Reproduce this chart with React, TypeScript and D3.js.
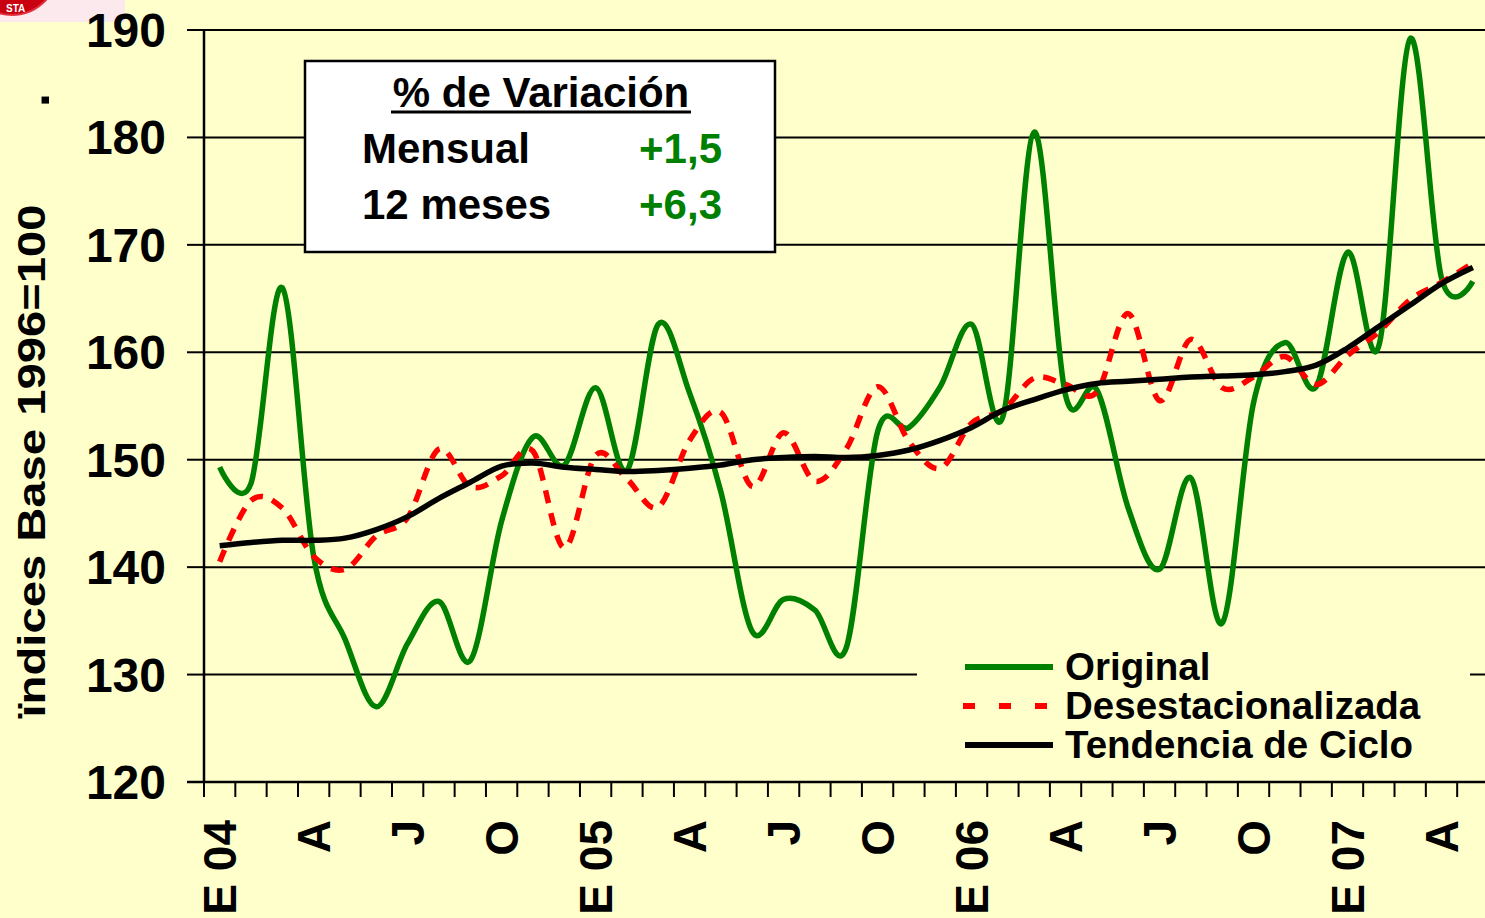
import React from "react";
import * as d3 from "d3";

const months = [
  "E 04","F","M","A","M","J","J","A","S","O","N","D",
  "E 05","F","M","A","M","J","J","A","S","O","N","D",
  "E 06","F","M","A","M","J","J","A","S","O","N","D",
  "E 07","F","M","A","M",
];

const original = [
  149.3,147.8,166.0,141.0,133.3,127.0,132.9,136.8,131.3,144.3,152.1,149.5,
  156.7,149.0,162.6,156.2,147.0,134.0,137.0,136.0,132.5,152.6,153.0,156.8,
  162.6,154.0,180.5,156.0,156.5,145.5,139.8,148.3,134.8,155.3,160.9,156.8,
  169.3,160.6,189.2,166.9,166.6,
];

const desestacionalizada = [
  140.5,146.2,145.5,141.0,139.8,142.9,144.6,151.0,147.5,148.5,150.8,141.8,
  150.4,148.2,145.6,151.8,154.4,147.5,152.5,148.0,151.0,156.8,151.7,149.2,
  153.4,154.6,157.6,157.0,156.3,163.6,155.5,161.2,156.7,157.7,159.6,157.0,
  159.7,161.9,164.9,166.5,168.3,
];

const tendencia = [
  142.0,142.3,142.5,142.5,142.7,143.5,144.7,146.4,147.9,149.4,149.7,149.3,
  149.1,148.9,149.0,149.2,149.5,150.0,150.2,150.3,150.2,150.4,150.9,151.8,
  153.0,154.6,155.6,156.5,157.1,157.3,157.5,157.7,157.8,157.9,158.2,158.8,
  160.4,162.4,164.4,166.4,167.9,
];

const yTicks = [120, 130, 140, 150, 160, 170, 180, 190];
const legendItems = ["Original", "Desestacionalizada", "Tendencia de Ciclo"];
const variationRows = [
  { label: "Mensual", value: "+1,5" },
  { label: "12 meses", value: "+6,3" },
];
const yTitle = "ïndices Base 1996=100";
const boxTitle = "% de Variación";

const W = 1485;
const H = 918;
const FONT = "'Liberation Sans', Arial, Helvetica, sans-serif";
const BG = "#FFFFCC";
const GREEN = "#008000";
const RED = "#FF0000";

export default function App() {
  const left = 204;
  const right = 1488.5;
  const top = 30;
  const bottom = 782;

  const x = d3.scaleBand<number>().domain(months.map((_, i) => i)).range([left, right]).paddingInner(0).paddingOuter(0);
  const bw = x.bandwidth();
  const cx = (i: number) => (x(i) as number) + bw / 2;
  const y = d3.scaleLinear().domain([120, 190]).range([bottom, top]);

  const line = d3
    .line<number>()
    .x((_, i) => cx(i))
    .y((d) => y(d))
    .curve(d3.curveCardinal.tension(0));

  const boundaries = d3.range(0, months.length + 1).map((i) => left + i * bw);

  return (
    <svg
      width={W}
      height={H}
      viewBox={`0 0 ${W} ${H}`}
      style={{ position: "absolute", left: 0, top: 0, display: "block" }}
      fontFamily={FONT}
    >
      <rect x={0} y={0} width={W} height={H} fill={BG} />

      {/* cropped logo in the corner */}
      <rect x={0} y={0} width={125} height={22} fill="#FCE9EE" />
      <ellipse cx={12} cy={-36} rx={48} ry={51} fill="#C8000F" stroke="#E23040" strokeWidth={2} />
      <text x={6} y={12} fontSize={10} fontWeight="bold" fill="#FFFFFF">
        STA
      </text>

      {/* gridlines */}
      {yTicks.filter((t) => t > 120).map((t) => (
        <line key={t} x1={left} x2={right} y1={y(t)} y2={y(t)} stroke="#000" strokeWidth={2} />
      ))}

      {/* y axis */}
      <line x1={left} x2={left} y1={top} y2={bottom} stroke="#000" strokeWidth={2.5} />
      {yTicks.map((t) => (
        <g key={t}>
          <line x1={187} x2={left} y1={y(t)} y2={y(t)} stroke="#000" strokeWidth={2} />
          <text x={166} y={y(t) + 17} textAnchor="end" fontSize={48} fontWeight="bold" fill="#000">
            {t}
          </text>
        </g>
      ))}

      {/* x axis */}
      <line x1={187} x2={right} y1={bottom} y2={bottom} stroke="#000" strokeWidth={2.5} />
      {boundaries.map((bx, i) => (
        <line key={i} x1={bx} x2={bx} y1={bottom} y2={bottom + 15} stroke="#000" strokeWidth={2} />
      ))}
      {months.map((m, i) =>
        i % 3 === 0 ? (
          <text
            key={i}
            transform={`translate(${cx(i) + 16.5},820) rotate(-90)`}
            textAnchor="end"
            fontSize={46}
            fontWeight="bold"
            fill="#000"
          >
            {m}
          </text>
        ) : null
      )}

      {/* y title */}
      <text
        transform="translate(45,461) rotate(-90)"
        textAnchor="middle"
        fontSize={39}
        fontWeight="bold"
        fill="#000"
        textLength={513}
        lengthAdjust="spacingAndGlyphs"
      >
        {yTitle}
      </text>
      <text transform="translate(49,107) rotate(-90)" fontSize={50} fontWeight="bold" fill="#000">
        .
      </text>

      {/* series */}
      <path d={line(original) || ""} fill="none" stroke={GREEN} strokeWidth={5.5} strokeLinejoin="round" />
      <path
        d={line(desestacionalizada) || ""}
        fill="none"
        stroke={RED}
        strokeWidth={5.5}
        strokeDasharray="13 10"
      />
      <path d={line(tendencia) || ""} fill="none" stroke="#000" strokeWidth={5.5} strokeLinejoin="round" />

      {/* variation box */}
      <rect x={305} y={61} width={470} height={191} fill="#FFFFFF" stroke="#000" strokeWidth={2.5} />
      <text x={541} y={107} textAnchor="middle" fontSize={42} fontWeight="bold" fill="#000">
        {boxTitle}
      </text>
      <line x1={391} x2={691} y1={112} y2={112} stroke="#000" strokeWidth={3} />
      {variationRows.map((r, i) => (
        <g key={r.label}>
          <text x={362} y={163 + i * 56} fontSize={42} fontWeight="bold" fill="#000">
            {r.label}
          </text>
          <text x={722} y={163 + i * 56} textAnchor="end" fontSize={42} fontWeight="bold" fill={GREEN}>
            {r.value}
          </text>
        </g>
      ))}

      {/* legend */}
      <rect x={917} y={640} width={553} height={132} fill={BG} />
      {legendItems.map((name, i) => {
        const ly = 667 + i * 39;
        const color = i === 0 ? GREEN : i === 1 ? RED : "#000";
        return (
          <g key={name}>
            <line
              x1={i === 1 ? 963 : 965}
              x2={1053}
              y1={ly}
              y2={ly}
              stroke={color}
              strokeWidth={6}
              strokeDasharray={i === 1 ? "12 24" : undefined}
            />
            <text x={1065} y={ly + 13} fontSize={38.5} fontWeight="bold" fill="#000">
              {name}
            </text>
          </g>
        );
      })}
    </svg>
  );
}
